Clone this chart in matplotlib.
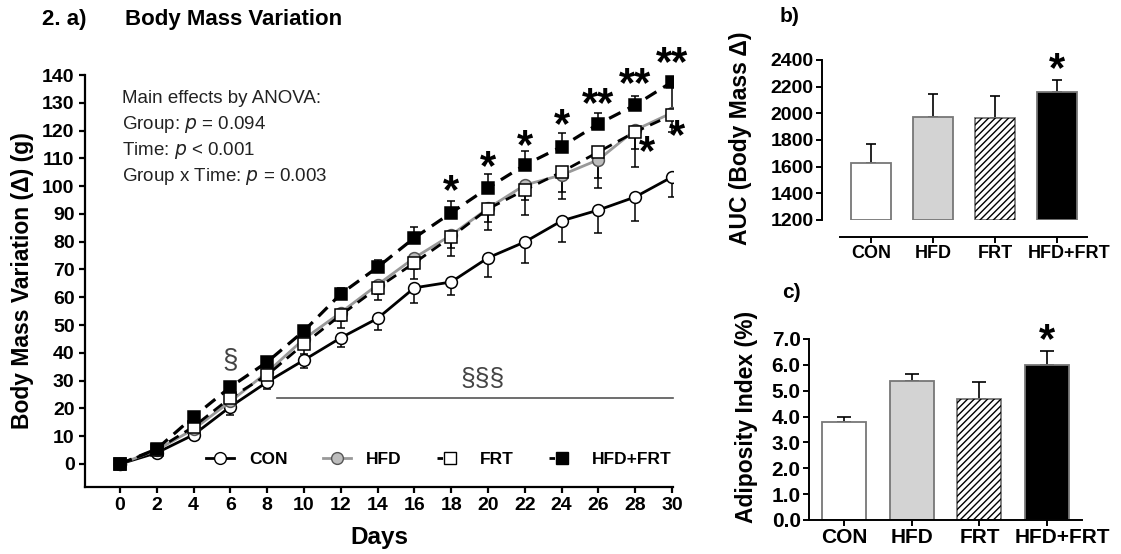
import numpy as np
import matplotlib
matplotlib.use("Agg")
import matplotlib.pyplot as plt
from matplotlib.lines import Line2D
from matplotlib.transforms import ScaledTranslation

plt.rcParams['font.family'] = ['Liberation Sans', 'DejaVu Sans']

# ---- panel a data (mean and SEM) ----
days = [0, 2, 4, 6, 8, 10, 12, 14, 16, 18, 20, 22, 24, 26, 28, 30]
con = [0, 4, 10.5, 20.6, 29.5, 37.4, 45.4, 52.4, 63.4, 65.5, 74.2, 79.9, 87.5, 91.4, 96.1, 103.3]
con_se = [0, 0.8, 1.5, 3.0, 2.5, 3.0, 3.3, 4.2, 5.4, 4.7, 6.9, 7.5, 7.6, 8.2, 8.6, 7.2]
hfd = [0, 5, 12.5, 22.5, 33, 45, 54.5, 64.5, 74.2, 82.4, 92, 100.4, 104, 109.5, 120.2, 126.4]
hfd_se = [0, 0.8, 1.2, 1.8, 2.2, 2.8, 3.2, 3.5, 4.0, 4.5, 5.0, 5.5, 6.0, 6.5, 7.0, 7.0]
frt = [0, 5.2, 13.4, 23.8, 32.0, 43.2, 53.6, 63.4, 72.4, 81.7, 91.8, 98.6, 105.1, 112.3, 119.5, 125.6]
frt_se = [0, 1.0, 2.0, 2.5, 2.8, 3.5, 4.6, 4.4, 6.0, 6.8, 7.6, 9.0, 9.7, 13.0, 12.6, 0]
hf = [0, 5.4, 17, 27.7, 36.7, 47.9, 61.2, 70.8, 81.4, 90.4, 99.4, 107.6, 114.2, 122.4, 129.2, 137.5]
hf_se_up = [0, 0.8, 1.0, 1.2, 1.5, 1.8, 2.3, 2.5, 4.0, 4.3, 5.0, 5.0, 5.0, 4.0, 3.3, 0]
hf_se_lo = [0, 0, 0, 0, 0, 0, 0, 0, 0, 0, 0, 0, 0, 0, 0, 11.5]

# significance marks: (day, y of star centre, text)
stars_days = [18, 20, 22, 24, 26, 28, 30, 28.65, 30.25]
stars_y = [99.7, 108.4, 115.9, 123.5, 131, 138.2, 146, 114, 119.5]
stars_txt = ['*', '*', '*', '*', '**', '**', '**', '*', '*']

# ---- panels b and c ----
groups = ['CON', 'HFD', 'FRT', 'HFD+FRT']
auc = [1625, 1970, 1967, 2160]
auc_se = [143, 175, 165, 87]
adip = [3.8, 5.37, 4.66, 6.0]
adip_se = [0.2, 0.27, 0.67, 0.52]
bar_colors = ['white', '#d3d3d3', 'white', 'black']
bar_hatch = ['', '', '/////', '']

STAR_DROP = -11.8  # baseline offset (pt) so the asterisk glyph is centred on the point


def star(axis, xx, yy, txt):
    axis.annotate(txt, (xx, yy), xytext=(0, STAR_DROP), textcoords='offset points',
                  fontsize=30, fontweight='bold', ha='center', va='baseline',
                  annotation_clip=False, zorder=7)


fig = plt.figure(figsize=(11.21, 5.54), dpi=100)

# ================= panel a =================
ax = fig.add_axes([0.0758, 0.1209, 0.5245, 0.7437])
eb = dict(fmt='none', ecolor='black', elinewidth=1.1, capsize=3.2, capthick=1.1)
ax.errorbar(days, con, yerr=[con_se, np.zeros(16)], **eb, zorder=2)
ax.errorbar(days, hfd, yerr=[hfd_se, np.zeros(16)], **eb, zorder=2)
ax.errorbar(days, frt, yerr=[frt_se, np.zeros(16)], **eb, zorder=2)
ax.errorbar(days, hf, yerr=[hf_se_lo, hf_se_up], **eb, zorder=2)

ax.plot(days, con, '-o', color='black', lw=2, ms=8.5, mfc='white', mec='black', mew=1.1, zorder=3)
ax.plot(days, hfd, '-o', color='#999999', lw=2, ms=8.5, mfc='#bdbdbd', mec='#555555', mew=1.1, zorder=4)
ax.plot(days, frt, '--s', color='black', lw=2, ms=8.5, mfc='white', mec='black', mew=1.1,
        dashes=(4, 2.5), zorder=5)
ax.plot(days, hf, '--s', color='black', lw=2.3, ms=8.5, mfc='black', mec='black', mew=1.1,
        dashes=(4, 2.5), zorder=6)

ax.set_xlim(-1.9, 30.05)
ax.set_ylim(-8.3, 140)
ax.set_xticks(days)
ax.set_yticks(np.arange(0, 141, 10))
for s in ['top', 'right']:
    ax.spines[s].set_visible(False)
for s in ['left', 'bottom']:
    ax.spines[s].set_linewidth(1.6)
ax.tick_params(width=1.6, length=4.5, pad=3, labelsize=14)
for lab in ax.get_xticklabels() + ax.get_yticklabels():
    lab.set_fontweight('bold')
ax.set_xlabel('Days', fontsize=17.5, fontweight='bold', labelpad=8)
ax.set_ylabel('Body Mass Variation (Δ) (g)', fontsize=16.5, fontweight='bold', labelpad=6)

for d, y, t in zip(stars_days, stars_y, stars_txt):
    star(ax, d, y, t)

ax.text(6, 37.4, '§', fontsize=20, color='#444444', ha='center', va='center')
ax.text(19.7, 30.6, '§§§', fontsize=19, color='#444444', ha='center', va='center')
ax.plot([8.53, 30.05], [23.8, 23.8], color='#555555', lw=1.2, clip_on=False)

anova = ['Main effects by ANOVA:',
         'Group: $\\it{p}$ = 0.094',
         'Time: $\\it{p}$ < 0.001',
         'Group x Time: $\\it{p}$ = 0.003']
for i, line in enumerate(anova):
    ax.text(0.1, 131.5 - i * 9.3, line, fontsize=13.5, color='#222222', ha='left', va='center')

handles = [Line2D([], [], color='black', lw=2, marker='o', ms=8.5, mfc='white', mec='black'),
           Line2D([], [], color='#999999', lw=2, marker='o', ms=8.5, mfc='#bdbdbd', mec='#555555'),
           Line2D([], [], color='black', lw=2, ls='--', dashes=(2, 3), marker='s', ms=8.5, mfc='white', mec='black'),
           Line2D([], [], color='black', lw=2, ls='--', dashes=(2, 3), marker='s', ms=8.5, mfc='black', mec='black')]
ax.legend(handles, groups, ncol=4, frameon=False, loc='center', bbox_to_anchor=(0.602, 0.068),
          handlelength=1.6, handletextpad=0.9, columnspacing=2.0,
          prop={'size': 12.5, 'weight': 'bold'})

fig.text(42 / 1121, 1 - 20 / 554, '2. a)', fontsize=16, fontweight='bold', ha='left', va='center')
fig.text(125 / 1121, 1 - 20 / 554, 'Body Mass Variation', fontsize=16, fontweight='bold', ha='left', va='center')

# ================= panel b =================
x = np.arange(4)
axb = fig.add_axes([0.7333, 0.6029, 0.2364, 0.2888])
axb.bar(x, np.array(auc) - 1200, bottom=1200, width=0.66, color=bar_colors, edgecolor='#777777', lw=1.3, zorder=2)
axb.bar(x, np.array(auc) - 1200, bottom=1200, width=0.66, color='none', edgecolor='black', lw=0,
        hatch=bar_hatch, zorder=2)
axb.errorbar(x, auc, yerr=[np.zeros(4), auc_se], fmt='none', ecolor='black', elinewidth=1.2,
             capsize=3.6, capthick=1.2, zorder=1)
axb.set_xlim(-0.79, 3.484)
axb.set_ylim(1200, 2400)
axb.set_yticks(np.arange(1200, 2401, 200))
axb.set_xticks(x)
axb.set_xticklabels(groups)
axb.spines['top'].set_visible(False)
axb.spines['right'].set_visible(False)
axb.spines['bottom'].set_position(('outward', 12.2))
axb.spines['bottom'].set_bounds(-0.5, 3.484)
axb.spines['left'].set_linewidth(1.4)
axb.spines['bottom'].set_linewidth(1.4)
axb.tick_params(width=1.4, length=4, pad=2, labelsize=13)
for lab in axb.get_xticklabels() + axb.get_yticklabels():
    lab.set_fontweight('bold')
lab = axb.get_xticklabels()[3]
lab.set_transform(lab.get_transform() + ScaledTranslation(9 / 72, 0, fig.dpi_scale_trans))
axb.tick_params(axis='y', labelsize=14)
fig.text(741 / 1121, 1 - 245 / 554, 'AUC (Body Mass Δ)', rotation=90, fontsize=16.5, fontweight='bold',
         ha='center', va='bottom')
fig.text(780 / 1121, 1 - 17 / 554, 'b)', fontsize=15, fontweight='bold', ha='left', va='center')
star(axb, 3, 2362, '*')

# ================= panel c =================
axc = fig.add_axes([0.7217, 0.0614, 0.2435, 0.3267])
axc.bar(x, adip, width=0.65, color=bar_colors, edgecolor='#777777', lw=1.3, zorder=2)
axc.bar(x, adip, width=0.65, color='none', edgecolor='black', lw=0, hatch=bar_hatch, zorder=2)
axc.errorbar(x, adip, yerr=[np.zeros(4), adip_se], fmt='none', ecolor='black', elinewidth=1.2,
             capsize=5, capthick=1.2, zorder=1)
axc.set_xlim(-0.517, 3.515)
axc.set_ylim(0, 7)
axc.set_yticks(np.arange(0, 7.1, 1))
axc.set_yticklabels(['%.1f' % v for v in np.arange(0, 7.1, 1)])
axc.set_xticks(x)
axc.set_xticklabels(groups)
axc.spines['top'].set_visible(False)
axc.spines['right'].set_visible(False)
axc.spines['left'].set_linewidth(1.4)
axc.spines['bottom'].set_linewidth(1.4)
axc.tick_params(width=1.4, length=4, pad=2, labelsize=15)
for lab in axc.get_xticklabels() + axc.get_yticklabels():
    lab.set_fontweight('bold')
lab = axc.get_xticklabels()[3]
lab.set_transform(lab.get_transform() + ScaledTranslation(11 / 72, 0, fig.dpi_scale_trans))
fig.text(746 / 1121, 1 - 417 / 554, 'Adiposity Index (%)', rotation=90, fontsize=16.5, fontweight='bold',
         ha='center', va='center')
fig.text(782 / 1121, 1 - 292 / 554, 'c)', fontsize=15, fontweight='bold', ha='left', va='center')
star(axc, 3, 7.14, '*')

fig.savefig('out.png', dpi=100)
